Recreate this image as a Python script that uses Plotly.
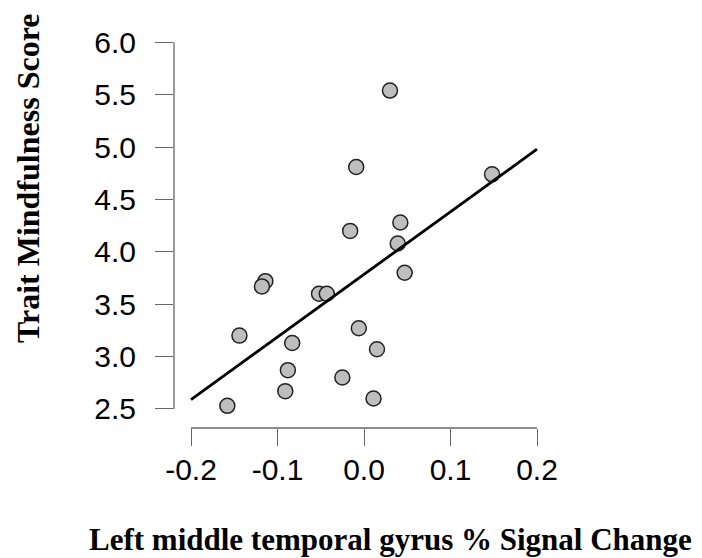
import plotly.graph_objects as go

# Data
signal_change = [0.030, -0.009, 0.148, 0.042, -0.016, 0.039, 0.047, -0.114, -0.118, -0.052,
                 -0.043, -0.144, -0.006, -0.083, 0.015, -0.088, -0.025, -0.091, 0.011, -0.158]
mindfulness = [5.54, 4.81, 4.74, 4.28, 4.20, 4.08, 3.80, 3.72, 3.67, 3.60,
               3.60, 3.20, 3.27, 3.13, 3.07, 2.87, 2.80, 2.67, 2.60, 2.53]
fit_x = [-0.2, 0.2]
fit_y = [2.59, 4.98]
x_ticks = [-0.2, -0.1, 0.0, 0.1, 0.2]
x_ticktext = ["-0.2", "-0.1", "0.0", "0.1", "0.2"]
y_ticks = [2.5, 3.0, 3.5, 4.0, 4.5, 5.0, 5.5, 6.0]
y_ticktext = ["2.5", "3.0", "3.5", "4.0", "4.5", "5.0", "5.5", "6.0"]

AX = "#666666"
TICKFONT = dict(family="Arial, Liberation Sans, sans-serif", size=30, color="#000000")
XTITLEFONT = dict(family="Times New Roman, Liberation Serif, serif", size=31, color="#000000")
YTITLEFONT = dict(family="Times New Roman, Liberation Serif, serif", size=32, color="#000000")

fig = go.Figure()
fig.add_trace(go.Scatter(
    x=signal_change, y=mindfulness, mode="markers",
    marker=dict(size=15, color="#bebebe", line=dict(color="#222222", width=1.5)),
    showlegend=False, hoverinfo="skip"))
fig.add_trace(go.Scatter(
    x=fit_x, y=fit_y, mode="lines",
    line=dict(color="#000000", width=2.8),
    showlegend=False, hoverinfo="skip"))

fig.update_layout(
    width=702, height=558,
    margin=dict(l=174, r=148, t=32, b=130),
    paper_bgcolor="white", plot_bgcolor="white",
    xaxis=dict(range=[-0.21965, 0.21965], tickvals=x_ticks, ticktext=x_ticktext,
               ticks="outside", ticklen=17, tickwidth=1.3, tickcolor=AX,
               showline=False, showgrid=False, zeroline=False,
               tickfont=TICKFONT, ticklabelstandoff=-2),
    yaxis=dict(range=[2.318, 6.099], tickvals=y_ticks, ticktext=y_ticktext,
               ticks="outside", ticklen=18, tickwidth=1.3, tickcolor=AX,
               showline=False, showgrid=False, zeroline=False,
               tickfont=TICKFONT, ticklabelstandoff=13),
    shapes=[
        dict(type="line", xref="x", yref="paper", x0=x_ticks[0], x1=x_ticks[-1], y0=0, y1=0,
             line=dict(color=AX, width=1.3)),
        dict(type="line", xref="paper", yref="y", x0=0, x1=0, y0=y_ticks[0], y1=y_ticks[-1],
             line=dict(color=AX, width=1.3)),
    ],
    annotations=[
        dict(text="<b>Left middle temporal gyrus % Signal Change</b>", xref="paper", yref="paper",
             x=0.5697, y=-0.2828, xanchor="center", yanchor="middle", showarrow=False,
             font=XTITLEFONT),
        dict(text="<b>Trait Mindfulness Score</b>", xref="paper", yref="paper",
             x=-0.3842, y=0.6288, xanchor="center", yanchor="middle", showarrow=False,
             textangle=-90, font=YTITLEFONT),
    ],
)

fig.write_html("out.html")
